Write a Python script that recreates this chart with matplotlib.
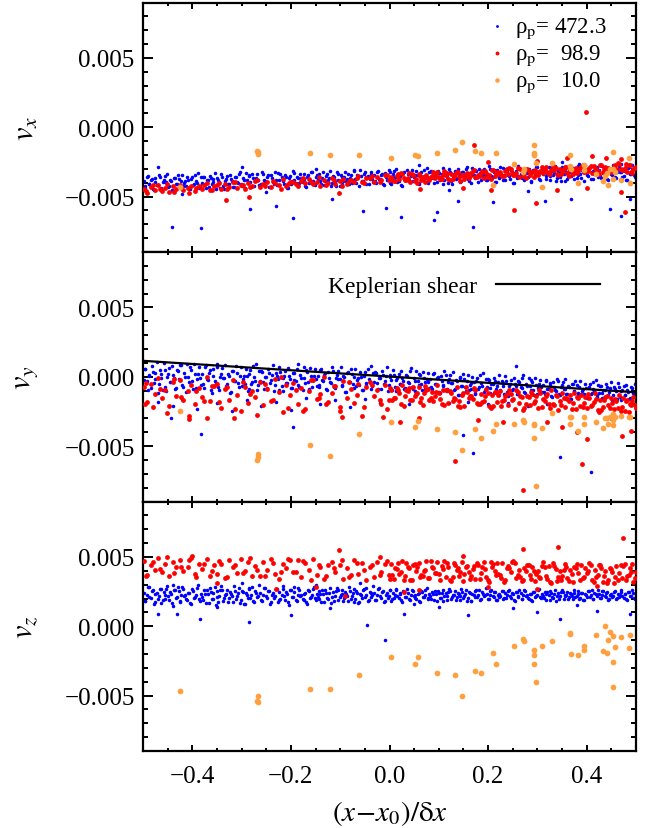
import matplotlib
matplotlib.use("Agg")
import matplotlib.pyplot as plt
import numpy as np
from matplotlib.lines import Line2D
from matplotlib.ticker import MultipleLocator, FuncFormatter

plt.rcParams["font.family"] = ["Liberation Serif", "DejaVu Serif"]
plt.rcParams["mathtext.fontset"] = "stix"

# positions in units of 1e-3 (x - x0)/dx, velocities in units of 1e-5
blue_x = [
    -498, -495, -490, -488, -482, -478, -475, -470, -466, -463,
    -458, -455, -451, -447, -444, -439, -436, -431, -427, -424,
    -420, -416, -413, -408, -405, -401, -396, -393, -389, -384,
    -381, -377, -372, -369, -364, -361, -357, -352, -349, -345,
    -341, -338, -333, -329, -326, -321, -318, -314, -309, -306,
    -302, -297, -294, -290, -286, -283, -278, -274, -271, -267,
    -262, -259, -255, -251, -246, -243, -239, -235, -231, -227,
    -224, -219, -216, -212, -207, -204, -200, -196, -193, -188,
    -185, -181, -176, -173, -169, -165, -162, -157, -154, -150,
    -146, -142, -139, -134, -131, -127, -122, -119, -115, -111,
    -107, -104, -99, -96, -92, -88, -85, -80, -77, -73,
    -69, -66, -61, -58, -54, -50, -47, -42, -38, -35,
    -31, -27, -23, -20, -15, -12, -8, -4, 0, 3,
    7, 11, 14, 19, 22, 26, 30, 33, 38, 41,
    45, 49, 52, 57, 60, 64, 68, 71, 76, 79,
    83, 87, 90, 95, 98, 102, 106, 109, 114, 117,
    121, 125, 128, 133, 136, 140, 144, 147, 152, 155,
    159, 163, 166, 171, 174, 178, 182, 185, 190, 193,
    197, 201, 204, 209, 212, 216, 220, 223, 228, 231,
    235, 239, 242, 247, 250, 254, 258, 261, 266, 269,
    273, 277, 280, 285, 288, 292, 296, 299, 304, 307,
    311, 315, 318, 323, 326, 330, 334, 337, 342, 345,
    349, 353, 356, 361, 364, 368, 372, 375, 380, 383,
    387, 391, 394, 399, 402, 406, 410, 413, 418, 421,
    425, 429, 432, 437, 440, 444, 448, 451, 456, 459,
    463, 467, 470, 475, 478, 482, 486, 489, 494, 497,
    -496, -492, -487, -484, -480, -476, -472, -468, -464, -460,
    -456, -453, -449, -445, -441, -437, -433, -429, -425, -422,
    -418, -414, -410, -406, -403, -398, -394, -391, -387, -382,
    -379, -375, -370, -366, -362, -359, -354, -350, -347, -343,
    -339, -335, -331, -327, -323, -319, -316, -311, -307, -304,
    -300, -295, -292, -288, -284, -280, -276, -272, -269, -264,
    -260, -257, -253, -249, -244, -241, -237, -233, -229, -225,
    -222, -217, -214, -210, -205, -202, -198, -194, -190, -186,
    -183, -179, -174, -171, -167, -163, -159, -155, -152, -148,
    -144, -140, -136, -132, -129, -124, -120, -117, -113, -109,
    -105, -101, -97, -94, -90, -86, -82, -78, -75, -71,
    -67, -63, -59, -56, -52, -48, -44, -40, -37, -33,
    -29, -25, -21, -17, -13, -10, -6, -2, 2, 5,
    9, 13, 16, 21, 24, 28, 32, 35, 40, 43,
    47, 51, 54, 59, 62, 66, 70, 73, 78, 81,
    85, 89, 92, 97, 100, 104, 108, 111, 116, 119,
    123, 127, 130, 135, 138, 142, 146, 149, 154, 157,
    161, 165, 168, 173, 176, 180, 184, 187, 192, 195,
    199, 203, 206, 211, 214, 218, 222, 225, 230, 233,
    237, 241, 244, 249, 252, 256, 260, 263, 268, 271,
    275, 279, 282, 287, 290, 294, 298, 301, 306, 309,
    313, 317, 320, 325, 328, 332, 336, 339, 344, 347,
    351, 355, 358, 363, 366, 370, 374, 377, 382, 385,
    389, 393, 396, 401, 404, 408, 412, 415, 420, 423,
    427, 431, 434, 439, 442, 446, 450, 453, 458, 461,
    465, 469, 472, 477, 480, 484, 488, 491, 495, 499,
]
blue_vx = [
    -386, -438, -353, -409, -372, -454, -395, -417, -359, -443,
    -377, -398, -339, -426, -388, -459, -364, -409, -373, -435,
    -345, -400, -421, -383, -443, -357, -410, -389, -331, -424,
    -402, -361, -437, -384, -350, -413, -374, -446, -365, -393,
    -335, -423, -387, -354, -406, -376, -429, -359, -393, -340,
    -413, -367, -436, -382, -347, -398, -335, -421, -369, -384,
    -414, -320, -377, -398, -345, -429, -368, -406, -384, -329,
    -419, -356, -391, -346, -441, -369, -406, -319, -378, -356,
    -421, -337, -396, -371, -430, -346, -382, -326, -411, -358,
    -375, -359, -411, -324, -386, -334, -368, -421, -352, -398,
    -325, -377, -343, -412, -359, -386, -334, -367, -402, -314,
    -371, -343, -423, -351, -388, -324, -358, -411, -334, -375,
    -348, -400, -316, -371, -335, -416, -357, -381, -322, -406,
    -340, -361, -302, -389, -351, -421, -326, -371, -335, -398,
    -307, -362, -383, -345, -405, -320, -373, -352, -294, -387,
    -365, -324, -400, -347, -313, -377, -337, -409, -328, -356,
    -298, -386, -350, -317, -368, -340, -392, -322, -356, -304,
    -376, -330, -399, -345, -310, -361, -298, -384, -332, -348,
    -377, -283, -341, -362, -308, -393, -332, -369, -348, -293,
    -382, -319, -355, -310, -404, -332, -369, -281, -340, -319,
    -384, -300, -358, -333, -392, -310, -345, -290, -373, -321,
    -338, -322, -374, -286, -349, -297, -331, -385, -316, -361,
    -288, -340, -305, -375, -322, -349, -297, -330, -366, -277,
    -334, -306, -386, -313, -352, -287, -321, -373, -297, -338,
    -312, -364, -279, -334, -298, -379, -320, -344, -285, -369,
    -304, -325, -265, -353, -314, -384, -289, -334, -298, -361,
    -425, -357, -406, -379, -447, -365, -414, -343, -435, -396,
    -355, -397, -430, -379, -456, -368, -409, -348, -418, -386,
    -423, -385, -356, -445, -375, -417, -342, -403, -438, -362,
    -356, -406, -384, -433, -368, -397, -331, -418, -377, -441,
    -358, -444, -375, -407, -341, -389, -428, -362, -399, -323,
    -422, -380, -329, -403, -352, -431, -369, -389, -340, -416,
    -407, -339, -388, -361, -429, -347, -396, -325, -417, -378,
    -337, -379, -412, -361, -438, -350, -391, -330, -400, -368,
    -405, -367, -338, -427, -357, -399, -324, -385, -420, -344,
    -338, -388, -366, -415, -350, -379, -313, -400, -359, -423,
    -340, -426, -357, -389, -323, -371, -410, -344, -381, -305,
    -404, -362, -311, -385, -334, -413, -351, -371, -322, -398,
    -389, -321, -370, -343, -411, -329, -378, -307, -399, -360,
    -318, -360, -393, -342, -419, -331, -372, -311, -381, -349,
    -386, -348, -319, -408, -338, -380, -305, -366, -401, -325,
    -319, -369, -347, -396, -331, -360, -294, -381, -340, -404,
    -321, -407, -338, -370, -304, -352, -391, -325, -362, -286,
    -385, -343, -292, -366, -315, -394, -332, -352, -303, -379,
    -370, -302, -351, -324, -392, -310, -359, -288, -380, -341,
    -300, -342, -375, -324, -401, -313, -354, -293, -363, -331,
    -368, -330, -301, -390, -320, -362, -287, -348, -383, -307,
    -301, -351, -329, -378, -313, -342, -276, -363, -322, -386,
    -303, -389, -320, -352, -286, -334, -373, -307, -344, -268,
    -367, -325, -274, -348, -297, -376, -314, -334, -285, -361,
    -351, -283, -332, -305, -373, -291, -340, -269, -361, -322,
    -281, -323, -356, -305, -382, -294, -335, -274, -344, -312,
]
blue_vy = [
    -24, 58, -94, 12, 80, -48, 30, -116, 46, -10,
    102, -74, -2, 64, -40, 16, -90, 50, -18, 86,
    -62, 30, -108, 0, 70, -34, 92, -82, 22, -10,
    23, -81, 87, -23, 49, -115, 3, -47, 71, -97,
    23, -10, 84, -55, 6, -109, 43, -29, 28, -73,
    69, -19, -52, 9, -89, 47, -38, -4, 89, -62,
    -29, 36, -85, 0, 54, -48, 14, -103, 27, -18,
    71, -70, -12, 41, -42, 2, -82, 30, -25, 58,
    -59, 14, -96, -10, 46, -37, 64, -75, 8, -18,
    6, -72, 54, -29, 26, -98, -9, -47, 42, -84,
    13, -19, 70, -61, -4, -112, 31, -37, 17, -78,
    56, -27, -59, -1, -93, 35, -45, -13, 74, -68,
    -37, 25, -90, -10, 41, -55, 4, -106, 16, -27,
    49, -74, -24, 22, -51, -11, -86, 12, -35, 38,
    -72, -7, -104, -28, 21, -52, 36, -86, -13, -35,
    -18, -91, 26, -51, 0, -115, -32, -67, 15, -102,
    -18, -48, 35, -87, -34, -135, -2, -65, -14, -102,
    12, -60, -87, -38, -117, -6, -75, -48, 27, -95,
    -75, -21, -120, -51, -7, -90, -39, -134, -29, -66,
    3, -112, -65, -22, -90, -53, -122, -31, -75, -8,
    -110, -50, -140, -69, -24, -92, -10, -123, -55, -76,
    -62, -125, -24, -90, -47, -145, -74, -104, -33, -134,
    -63, -88, -18, -122, -76, -163, -49, -103, -60, -135,
    -34, -100, -125, -80, -153, -51, -115, -89, -20, -133,
    -114, -65, -156, -93, -52, -129, -82, -170, -72, -106,
    -44, -149, -106, -66, -129, -95, -159, -75, -116, -53,
    58, -32, 8, -80, 37, -15, 103, -53, 21, -95,
    48, -106, 18, -40, 79, -7, -78, 41, -25, 85,
    -74, 1, 93, -40, 52, -90, 21, -15, 73, -63,
    -54, 69, -19, 29, -93, 54, -34, 94, -72, -1,
    65, -11, -70, 22, -117, 42, -32, 78, -48, 9,
    -65, 4, 56, -104, 22, -54, 81, -29, -92, 45,
    43, -37, -2, -80, 24, -23, 83, -56, 9, -93,
    33, -105, 6, -46, 60, -17, -79, 26, -33, 89,
    -75, -8, 73, -45, 37, -90, 9, -23, 56, -66,
    -56, 47, -27, 14, -89, 35, -39, 68, -71, -12,
    44, -19, -69, 8, -108, 25, -37, 55, -51, -2,
    -65, -7, 36, -98, 8, -56, 57, -35, -87, 27,
    31, -45, -11, -85, 13, -31, 68, -63, -1, -97,
    14, -106, -10, -54, 38, -29, -84, 9, -43, 63,
    -87, -28, 44, -60, 11, -99, -12, -40, 28, -78,
    -76, 19, -49, -11, -107, 8, -60, 39, -90, -35,
    11, -48, -94, -23, -130, -7, -65, 21, -77, -32,
    -92, -43, -5, -121, -30, -85, 13, -66, -112, -13,
    -16, -81, -52, -116, -32, -69, 16, -97, -43, -127,
    -30, -141, -52, -93, -7, -70, -121, -35, -83, 16,
    -120, -69, -8, -97, -36, -131, -56, -80, -21, -113,
    -111, -30, -89, -56, -138, -39, -98, -13, -123, -77,
    -38, -88, -128, -67, -159, -54, -103, -30, -114, -75,
    -127, -85, -53, -151, -74, -121, -38, -105, -144, -60,
    -64, -119, -94, -148, -77, -109, -36, -132, -87, -157,
    -76, -171, -95, -130, -57, -110, -153, -81, -121, -38,
]
blue_vz = [
    242, 179, 280, 214, 257, 159, 230, 200, 271, 170,
    248, 223, 293, 189, 235, 148, 262, 208, 251, 176,
    284, 218, 193, 238, 165, 267, 203, 229, 298, 185,
    211, 260, 169, 232, 273, 196, 243, 155, 253, 219,
    287, 182, 225, 265, 202, 236, 172, 256, 215, 278,
    190, 245, 163, 227, 269, 207, 283, 178, 241, 221,
    240, 183, 276, 215, 255, 164, 229, 202, 267, 174,
    246, 223, 288, 192, 234, 155, 259, 210, 249, 180,
    274, 219, 198, 236, 175, 260, 207, 228, 286, 192,
    213, 254, 178, 231, 265, 201, 240, 167, 248, 220,
    277, 189, 225, 258, 206, 234, 181, 251, 217, 269,
    196, 242, 173, 227, 262, 210, 273, 186, 238, 222,
    238, 191, 266, 217, 249, 175, 229, 206, 259, 184,
    240, 223, 271, 201, 231, 174, 250, 214, 243, 192,
    264, 220, 203, 234, 185, 253, 211, 227, 274, 199,
    215, 248, 187, 230, 257, 206, 237, 179, 243, 221,
    267, 196, 225, 251, 210, 232, 190, 246, 219, 260,
    202, 239, 183, 227, 255, 213, 263, 194, 235, 223,
    235, 198, 257, 219, 244, 186, 228, 210, 252, 193,
    238, 224, 265, 204, 231, 180, 247, 215, 240, 196,
    259, 221, 206, 233, 190, 250, 212, 227, 268, 202,
    217, 245, 192, 229, 253, 208, 236, 184, 241, 221,
    261, 200, 225, 248, 212, 231, 194, 243, 219, 256,
    205, 237, 189, 226, 251, 214, 259, 198, 234, 223,
    233, 202, 253, 220, 241, 192, 227, 212, 248, 197,
    236, 224, 259, 207, 230, 187, 244, 217, 238, 200,
    182, 228, 284, 203, 259, 172, 240, 218, 272, 189,
    195, 270, 216, 246, 171, 261, 207, 286, 184, 227,
    269, 223, 186, 243, 158, 255, 210, 277, 200, 235,
    191, 233, 265, 167, 244, 197, 280, 213, 174, 258,
    261, 206, 231, 177, 248, 216, 289, 193, 238, 168,
    256, 161, 237, 202, 275, 222, 179, 251, 211, 294,
    186, 228, 279, 205, 256, 177, 239, 219, 268, 192,
    198, 266, 217, 244, 176, 258, 209, 280, 188, 227,
    265, 223, 190, 241, 164, 252, 211, 272, 202, 234,
    194, 232, 261, 172, 242, 200, 275, 214, 179, 255,
    258, 208, 230, 181, 246, 217, 283, 196, 237, 173,
    253, 167, 236, 204, 270, 222, 183, 249, 212, 288,
    190, 228, 274, 207, 253, 182, 238, 220, 264, 195,
    203, 258, 219, 240, 186, 251, 212, 269, 195, 227,
    257, 223, 197, 238, 176, 247, 214, 263, 207, 232,
    200, 231, 254, 183, 239, 205, 265, 216, 188, 249,
    251, 211, 229, 190, 242, 219, 271, 202, 235, 183,
    247, 179, 234, 208, 261, 223, 191, 244, 215, 275,
    198, 227, 263, 211, 247, 191, 235, 221, 255, 202,
    206, 254, 219, 238, 191, 248, 214, 264, 199, 226,
    253, 224, 200, 236, 182, 244, 215, 258, 209, 231,
    203, 230, 250, 188, 237, 207, 260, 217, 193, 246,
    245, 215, 228, 199, 238, 220, 260, 208, 232, 194,
    242, 190, 232, 212, 252, 223, 200, 239, 217, 263,
    202, 227, 257, 213, 244, 196, 233, 221, 251, 205,
    209, 250, 220, 236, 196, 245, 215, 258, 203, 226,
]
# scattered blue particles away from the main band, per panel: (x, v)
blue_extra_vx = [
    (-441, -720), (-383, -726), (-282, -593), (-231, -570), (-196, -652),
    (-117, -520), (-54, -607), (-8, -580), (23, -650), (91, -670),
    (97, -610), (138, -530), (169, -717), (210, -540), (315, -530),
    (369, -520), (447, -590), (470, -640), (488, -520), (-470, -290),
    (-300, -290), (-150, -300), (60, -270), (350, -250), (-420, -480),
    (-250, -470), (120, -450), (280, -460),
]
blue_extra_vy = [
    (-470, -180), (-440, -210), (-420, -160), (-390, -230), (-350, -190),
    (-320, -250), (-290, -170), (-260, -210), (-230, -180), (-200, -240),
    (-170, -150), (-140, -200), (-110, -170), (-80, -220), (-50, -160),
    (-20, -190), (10, -150), (40, -200), (80, -170), (120, -190),
    (160, -180), (200, -200), (240, -190), (280, -210), (320, -200),
    (-383, -410), (-443, -300), (-196, -360), (169, -550), (346, -580),
    (409, -690), (257, 80), (150, -420),
]
blue_extra_vz = [
    (488, 90), (346, 50), (-46, 10), (-10, -100), (-286, 30),
    (-384, 50), (-469, 90), (-431, 90), (-200, 80), (30, 90),
    (160, 80), (300, 100), (420, 110), (-350, 140), (-120, 130),
    (100, 140), (250, 130), (380, 150), (-440, 300), (-300, 310),
    (-150, 300), (50, 160), (-60, 310),
]

red_x = [
    -497, -491, -484, -476, -470, -461, -455, -447, -440, -433,
    -425, -418, -409, -402, -395, -387, -380, -371, -364, -356,
    -349, -341, -333, -326, -318, -309, -302, -294, -287, -279,
    -272, -263, -256, -248, -240, -233, -225, -217, -210, -202,
    -195, -186, -179, -171, -163, -156, -148, -140, -133, -125,
    -117, -110, -101, -94, -86, -78, -71, -63, -55, -48,
    -40, -32, -25, -17, -9, -2,
    4, 9, 15, 20, 26, 31, 37, 42, 48, 53,
    59, 64, 70, 75, 81, 86, 92, 97, 103, 108,
    114, 119, 125, 130, 136, 141, 147, 152, 158, 163,
    169, 174, 180, 185, 191, 196, 202, 207, 213, 218,
    224, 229, 235, 240, 246, 251, 257, 262, 268, 273,
    279, 284, 290, 295, 301, 306, 312, 317, 323, 328,
    334, 339, 345, 350, 356, 361, 367, 372, 378, 383,
    389, 394, 400, 405, 411, 416, 422, 427, 433, 438,
    444, 449, 455, 460, 466, 471, 477, 482, 488, 494, 499,
    -494, -480, -466, -452, -437, -422, -406, -392, -377, -361,
    -345, -330, -314, -298, -283, -268, -252, -236, -221, -206,
    -190, -175, -159, -144, -128, -113, -97, -82, -66, -51,
    -36, -20, -5, 1, 12, 23, 34, 45, 56, 67,
    78, 89, 100, 111, 122, 133, 144, 155, 166, 177,
    188, 199, 210, 221, 232, 243, 254, 265, 276, 287,
    298, 309, 320, 331, 342, 353, 364, 375, 386, 397,
    408, 419, 430, 441, 452, 463, 474, 485, 492, 497,
    6, 18, 29, 40, 51, 62, 73, 84, 95, 106,
    117, 128, 139, 150, 161, 172, 183, 194, 205, 216,
    227, 238, 249, 260, 271, 282, 293, 304, 315, 326,
    337, 348, 359, 370, 381, 392, 403, 414, 425, 436,
    447, 458, 469, 480, 490,
]
red_vx = [
    -442, -471, -432, -451, -417, -458, -440, -468, -423, -448,
    -414, -455, -435, -422, -459, -426, -442, -403, -455, -425,
    -418, -447, -409, -429, -397, -437, -420, -446, -404, -424,
    -389, -430, -410, -398, -434, -400, -417, -375, -422, -392,
    -393, -422, -385, -404, -371, -411, -394, -421, -378, -399,
    -365, -406, -385, -373, -410, -379, -394, -350, -397, -368,
    -368, -397, -359, -378, -345, -384,
    -361, -390, -353, -372, -339, -379, -364, -393, -343, -371,
    -337, -378, -359, -346, -383, -350, -366, -324, -373, -343,
    -344, -373, -336, -355, -322, -362, -347, -376, -327, -353,
    -319, -360, -341, -328, -365, -332, -348, -305, -354, -325,
    -326, -355, -318, -337, -304, -345, -329, -358, -310, -335,
    -301, -342, -323, -310, -347, -314, -331, -288, -338, -308,
    -309, -338, -300, -320, -286, -327, -311, -340, -292, -318,
    -284, -325, -306, -293, -330, -297, -314, -271, -320, -290,
    -291, -320, -282, -302, -268, -310, -294, -322, -275, -302, -285,
    -457, -414, -445, -407, -466, -428, -474, -435, -418, -451,
    -400, -443, -392, -417, -434, -378, -423, -386, -446, -408,
    -407, -364, -395, -357, -416, -378, -424, -385, -368, -401,
    -354, -397, -346, -371, -388, -332, -377, -340, -400, -362,
    -368, -325, -356, -318, -377, -339, -385, -346, -329, -362,
    -318, -361, -310, -335, -352, -296, -341, -304, -364, -326,
    -332, -289, -320, -282, -341, -303, -349, -310, -293, -326,
    -283, -326, -275, -300, -317, -261, -306, -269, -329, -291,
    -379, -336, -367, -329, -388, -350, -396, -357, -340, -373,
    -329, -372, -321, -346, -363, -307, -352, -315, -375, -337,
    -344, -301, -332, -294, -353, -315, -361, -322, -305, -338,
    -294, -337, -286, -311, -328, -272, -317, -280, -340, -302,
    -313, -270, -301, -263, -322,
]
red_vy = [
    -77, -182, -52, -123, -10, -154, -95, -210, -38, -137,
    -21, -168, -105, -63, -196, -84, -144, 0, -175, -70,
    -55, -225, -90, -165, -25, -130, -245, -75, -190, -100,
    -145, -35, -205, -85, -175, -15, -110, -255, -60, -135,
    -45, -195, -80, -235, -100, -20, -160, -125, -5, -180,
    -120, -65, -215, -30, -150, -90, -190, -50, -285, -75,
    -40, -140, -95, -200, -60, -165,
    -94, -154, -80, -120, -56, -138, -104, -170, -72, -128,
    -71, -155, -119, -95, -171, -107, -141, -59, -159, -99,
    -99, -189, -119, -154, -74, -174, -129, -209, -109, -139,
    -158, -98, -193, -123, -173, -88, -208, -133, -113, -183,
    -102, -177, -137, -207, -122, -162, -92, -187, -147, -222,
    -142, -207, -122, -177, -222, -117, -162, -137, -197, -97,
    -201, -141, -176, -116, -221, -161, -131, -191, -236, -151,
    -135, -190, -225, -155, -205, -120, -240, -165, -215, -145,
    -205, -150, -230, -175, -135, -215, -245, -165, -195, -145, -225,
    -45, -215, -85, -265, -15, -145, -305, -105, -175, -65,
    -185, -75, -235, -35, -125, -275, -55, -165, -5, -225,
    -95, -245, -20, -155, -200, -70, -290, -40, -130, -220,
    -60, -170, -235, -80, -150, -195, -95, -170, -115, -205,
    -87, -177, -117, -202, -102, -157, -217, -72, -142, -187,
    -185, -115, -210, -130, -165, -95, -230, -140, -195, -110,
    -139, -219, -124, -194, -239, -154, -174, -114, -209, -144,
    -212, -162, -242, -142, -192, -227, -152, -252, -172, -202,
    -170, -95, -210, -80, -140, -185, -65, -155, -110, -200,
    -98, -178, -213, -118, -153, -78, -198, -138, -228, -108,
    -212, -122, -167, -107, -237, -147, -192, -92, -177, -222,
    -131, -201, -156, -236, -146, -221, -121, -181, -251, -171,
    -225, -160, -250, -175, -205,
]
red_vz = [
    474, 369, 439, 404, 494, 389, 449, 359, 464, 424,
    480, 395, 425, 495, 375, 450, 410, 485, 360, 440,
    376, 451, 351, 476, 426, 386, 486, 401, 461, 361,
    437, 362, 467, 407, 487, 377, 342, 452, 417, 477,
    388, 478, 353, 453, 408, 488, 368, 428, 343, 443,
    464, 389, 444, 344, 419, 369, 479, 379, 454, 334,
    431, 356, 466, 391, 446, 371,
    449, 344, 414, 379, 469, 364, 424, 334, 439, 399,
    456, 371, 401, 471, 351, 426, 386, 461, 336, 416,
    353, 428, 328, 453, 403, 363, 463, 378, 438, 338,
    415, 340, 445, 385, 465, 355, 320, 430, 395, 455,
    368, 458, 333, 433, 388, 468, 348, 408, 323, 423,
    445, 370, 425, 325, 400, 350, 460, 360, 435, 315,
    432, 327, 397, 362, 452, 347, 407, 317, 422, 382,
    439, 354, 384, 454, 334, 409, 369, 444, 319, 399,
    336, 411, 311, 436, 386, 346, 446, 361, 421, 321, 391,
    366, 461, 411, 496, 386, 431, 481, 356, 451, 396,
    469, 354, 439, 384, 494, 409, 364, 459, 394, 484,
    391, 471, 336, 441, 366, 421, 481, 356, 456, 406,
    444, 369, 469, 344, 419, 389, 459, 334, 429, 359,
    349, 419, 374, 469, 334, 444, 394, 429, 359, 459,
    428, 333, 448, 378, 318, 418, 458, 358, 398, 343,
    378, 438, 343, 458, 358, 403, 323, 428, 333, 418,
    442, 357, 417, 312, 392, 337, 432, 367, 452, 347,
    372, 457, 337, 422, 447, 352, 407, 472, 382, 437,
    457, 357, 422, 327, 392, 437, 342, 412, 462, 372,
    346, 421, 461, 371, 331, 441, 401, 356, 431, 316,
    411, 331, 431, 376, 451, 351, 401, 316, 441, 366,
    422, 352, 442, 332, 392,
]
red_extra_vx = [
    (399, 110), (171, -126), (252, -595), (298, -550), (478, -610),
    (340, -450), (401, -436), (470, -470), (-331, -526), (-285, -505),
    (-103, -474), (62, -445), (206, -450), (150, -440), (360, -220),
    (440, -225), (470, -230), (300, -240), (200, -250), (410, -210),
]
red_extra_vy = [
    (-495, -200), (-406, -280), (-371, -300), (-316, -300), (-100, -250),
    (-13, -290), (21, -330), (133, -610), (270, -820), (390, -630),
    (472, -430), (400, -450), (380, -400), (490, -390), (230, -330),
    (320, -330), (180, -310), (60, -300), (350, -360), (450, -300),
]
red_extra_vz = [
    (473, 640), (341, 570), (270, 560), (-102, 550), (-400, 510),
    (-20, 500), (150, 510), (300, 270), (60, 260), (-150, 280),
    (420, 290), (200, 280), (-350, 310), (-90, 220), (-230, 270),
    (30, 250),
]

orange_x = [
    -425, -268, -267, -266, -161, -121, -62, 3, 52, 57,
    96, 132, 147, 173, 185, 209, 216, 253, 270, 272,
    293, 293, 293, 297, 310, 330, 366, 366, 369, 382,
    394, 394, 418, 434, 438, 441, 444, 447, 453, 453,
    453, 457, 470, 485, 488,
]
orange_vx = [
    -430, -170, -190, -180, -183, -202, -198, -221, -200, -210,
    -183, -167, -105, -171, -183, -420, -183, -264, -326, -300,
    -129, -183, -200, -260, -433, -255, -200, -279, -300, -400,
    -270, -310, -340, -390, -350, -330, -420, -300, -180, -300,
    -370, -320, -380, -220, -400,
]
orange_vy = [
    -250, -600, -580, -560, -490, -570, -410, -330, -360, -320,
    -380, -400, -530, -380, -440, -390, -340, -340, -310, -330,
    -340, -350, -440, -790, -370, -260, -290, -340, -290, -390,
    -290, -340, -330, -370, -300, -300, -340, -290, -270, -310,
    -350, -290, -280, -290, -290,
]
orange_vz = [
    -470, -540, -500, -545, -450, -450, -350, -220, -270, -220,
    -340, -350, -500, -320, -340, -190, -270, -140, -95, -110,
    -210, -270, -170, -400, -140, -110, -50, -55, -200, -210,
    -140, -170, -60, -180, 0, -190, -100, -40, -70, -260,
    -440, -150, -80, -160, -60,
]

kepler_x = [-0.5, 0.5]
kepler_vy = [0.00115, -0.00112]

labels_rho = ["\u03c1$_\\mathrm{p}$= 472.3", "\u03c1$_\\mathrm{p}$=  98.9", "\u03c1$_\\mathrm{p}$=  10.0"]
panel_labels = [r"$v_x$", r"$v_y$", r"$v_z$"]

BLUE, RED, ORANGE = "#0000ff", "#ff0000", "#ffa040"
S_BLUE, S_RED, S_ORANGE = 6.5, 12, 17


def xs(a):
    return np.asarray(a) / 1000.0


def vs(a):
    return np.asarray(a) * 1e-5


def extra(pairs):
    arr = np.asarray(pairs, dtype=float)
    return arr[:, 0] / 1000.0, arr[:, 1] * 1e-5


fig = plt.figure(figsize=(6.51, 8.29), dpi=100)
left, width = 143 / 651, 493 / 651
ph = 249.5 / 829
bottom0 = 1 - 752 / 829
axes = [fig.add_axes([left, bottom0 + (2 - i) * ph, width, ph]) for i in range(3)]

panels = [
    (blue_vx, blue_extra_vx, red_vx, red_extra_vx, orange_vx),
    (blue_vy, blue_extra_vy, red_vy, red_extra_vy, orange_vy),
    (blue_vz, blue_extra_vz, red_vz, red_extra_vz, orange_vz),
]

ymaj = FuncFormatter(lambda v, _: "0.000" if abs(v) < 1e-9 else f"{v:.3f}".replace("-", "\u2212"))
xmaj = FuncFormatter(lambda v, _: "0.0" if abs(v) < 1e-9 else f"{v:.1f}".replace("-", "\u2212"))

handles = []
for i, (ax, (bv, bex, rv, rex, ov)) in enumerate(zip(axes, panels)):
    ex_x, ex_v = extra(bex)
    hb = ax.scatter(np.concatenate([xs(blue_x), ex_x]), np.concatenate([vs(bv), ex_v]),
                    s=S_BLUE, c=BLUE, linewidths=0, zorder=2)
    ex_x, ex_v = extra(rex)
    hr = ax.scatter(np.concatenate([xs(red_x), ex_x]), np.concatenate([vs(rv), ex_v]),
                    s=S_RED, c=RED, linewidths=0, zorder=3)
    ho = ax.scatter(xs(orange_x), vs(ov), s=S_ORANGE, c=ORANGE, linewidths=0, zorder=4)
    if i == 0:
        handles = [hb, hr, ho]

    ax.set_xlim(-0.5, 0.5)
    ax.set_ylim(-0.009, 0.009)
    ax.xaxis.set_major_locator(MultipleLocator(0.2))
    ax.xaxis.set_minor_locator(MultipleLocator(0.05))
    ax.yaxis.set_major_locator(MultipleLocator(0.005))
    ax.yaxis.set_minor_locator(MultipleLocator(0.001))
    ax.yaxis.set_major_formatter(ymaj)
    ax.xaxis.set_major_formatter(xmaj)
    ax.tick_params(which="both", direction="in", top=True, right=True, width=1.4)
    ax.tick_params(axis="y", which="major", length=7, pad=6, labelsize=18)
    ax.tick_params(axis="y", which="minor", length=3.8)
    ax.tick_params(axis="x", which="major", length=4, pad=10, labelsize=18)
    ax.tick_params(axis="x", which="minor", length=2.5)
    for sp in ax.spines.values():
        sp.set_linewidth(1.6)
    if i < 2:
        ax.tick_params(axis="x", labelbottom=False)
    ax.set_ylabel(panel_labels[i], fontsize=22)
    ax.yaxis.set_label_coords(-0.208, 0.5)

axes[0].legend(handles, labels_rho, loc="upper right", bbox_to_anchor=(0.965, 1.0),
               frameon=False, fontsize=16.5, handlelength=0.5, handletextpad=0.5,
               labelspacing=0.12, borderaxespad=0.15, markerscale=0.8)

axes[1].plot(kepler_x, kepler_vy, color="black", lw=1.6, zorder=5)
axes[1].legend([Line2D([], [], color="black", lw=1.6)], ["Keplerian shear"],
               loc="upper right", bbox_to_anchor=(0.975, 1.0), frameon=False,
               fontsize=17, markerfirst=False, handlelength=4.4, handletextpad=0.8,
               borderaxespad=0.6)

axes[2].set_xlabel(r"$(x\!-\!x_0)/\mathrm{\delta} x$", fontsize=21)
axes[2].xaxis.set_label_coords(0.5, -0.19)
axes[2].xaxis.label.set_va("top")

fig.savefig("out.png", dpi=100)
